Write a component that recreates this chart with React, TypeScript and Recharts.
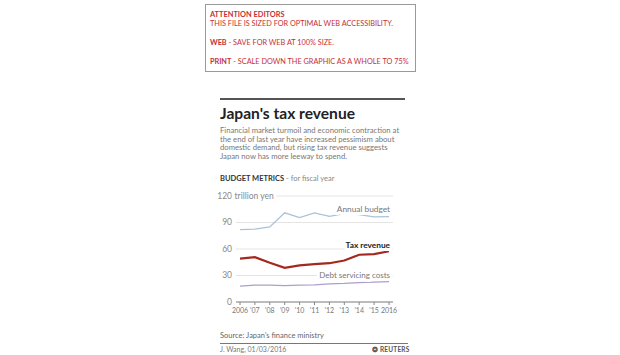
import React from 'react';
import { LineChart, Line, XAxis, YAxis, CartesianGrid, LabelList } from 'recharts';

const years = [2006, 2007, 2008, 2009, 2010, 2011, 2012, 2013, 2014, 2015, 2016];
const yearLabels = ['2006', "'07", "'08", "'09", "'10", "'11", "'12", "'13", "'14", "'15", '2016'];
const annualBudget = [82, 82.5, 85, 101, 95.5, 100.8, 97, 100, 99, 96.3, 96.6];
const taxRevenue = [49.1, 50.8, 44.5, 38.7, 41.4, 42.8, 43.9, 47, 53.5, 54.3, 57.5];
const debtServicing = [18, 19, 19, 18.5, 19, 19.5, 20.5, 21, 22, 22.5, 23];
const yTicks = [0, 30, 60, 90, 120];
const yUnit = 'trillion yen';
const seriesNames = { annualBudget: 'Annual budget', taxRevenue: 'Tax revenue', debtServicing: 'Debt servicing costs' };

const data = years.map((year, i) => ({
  year,
  annualBudget: annualBudget[i],
  taxRevenue: taxRevenue[i],
  debtServicing: debtServicing[i],
}));

const FONT = 'Lato, "Open Sans", sans-serif';
const RED = '#c62f36';

const YTick = (props: any) => {
  const { x, y, payload } = props;
  return (
    <g>
      <text x={x} y={y} dy="0.35em" textAnchor="end" fontSize={8.5} fill="#888" fontFamily={FONT}>
        {payload.value}
      </text>
      {payload.value === 120 && (
        <text x={x + 2.5} y={y} dy="0.35em" textAnchor="start" fontSize={8.5} fill="#888" fontFamily={FONT}
          stroke="#fff" strokeWidth={6} strokeLinejoin="round" paintOrder="stroke">
          {yUnit}
        </text>
      )}
    </g>
  );
};

const XTick = (props: any) => {
  const { x, y, payload } = props;
  const label = yearLabels[years.indexOf(payload.value)];
  return (
    <text x={x} y={y} dy="0.71em" textAnchor="middle" fontSize={7} fill="#777" fontFamily={FONT}>
      {label}
    </text>
  );
};

const makeEndLabel = (text: string, dy: number, color: string, bold: boolean, size: number) => (props: any) => {
  const { x, y, index } = props;
  if (index !== years.length - 1) return null;
  return (
    <text x={x + 1} y={y + dy} dy="0.35em" textAnchor="end" fontSize={size} fill={color}
      fontWeight={bold ? 700 : 400} fontFamily={FONT}
      stroke="#fff" strokeWidth={6} strokeLinejoin="round" paintOrder="stroke">
      {text}
    </text>
  );
};

const abs = (left: number, top: number, extra: React.CSSProperties = {}): React.CSSProperties => ({
  position: 'absolute', left, top, whiteSpace: 'nowrap', ...extra,
});

export default function App() {
  return (
    <div style={{ position: 'absolute', left: 0, top: 0, width: 620, height: 355, background: '#fff', fontFamily: FONT, overflow: 'hidden' }}>
      {/* attention box */}
      <div style={{ position: 'absolute', left: 205, top: 4, width: 209, height: 66, border: '1px solid #9a9a9a' }} />
      <div style={abs(210, 10, { fontSize: 7.4, lineHeight: '10px', color: RED, fontWeight: 700 })}>ATTENTION EDITORS</div>
      <div style={abs(210, 19, { fontSize: 7.3, lineHeight: '10px', color: RED })}>THIS FILE IS SIZED FOR OPTIMAL WEB ACCESSIBILITY.</div>
      <div style={abs(210, 38, { fontSize: 7.3, lineHeight: '10px', color: RED })}><b>WEB</b> - SAVE FOR WEB AT 100% SIZE.</div>
      <div style={abs(210, 57, { fontSize: 7.3, lineHeight: '10px', color: RED })}><b>PRINT</b> - SCALE DOWN THE GRAPHIC AS A WHOLE TO 75%</div>

      {/* top rule */}
      <div style={{ position: 'absolute', left: 220, top: 98, width: 185, height: 2, background: '#555' }} />

      <div style={abs(220, 104, { fontSize: 15.6, lineHeight: '18px', fontWeight: 700, color: '#222' })}>Japan's tax revenue</div>

      <div style={{ position: 'absolute', left: 220, top: 126, width: 190, fontSize: 7.7, lineHeight: '8.7px', color: '#777' }}>
        <div>Financial market turmoil and economic contraction at</div>
        <div>the end of last year have increased pessimism about</div>
        <div>domestic demand, but rising tax revenue suggests</div>
        <div>Japan now has more leeway to spend.</div>
      </div>

      <div style={abs(220, 174, { fontSize: 7.5, lineHeight: '9px', color: '#888' })}>
        <span style={{ fontWeight: 700, color: '#333' }}>BUDGET METRICS</span> - for fiscal year
      </div>

      <div style={{ position: 'absolute', left: 200, top: 185 }}>
        <LineChart width={210} height={134} data={data} margin={{ top: 11, right: 17, bottom: 1, left: 0 }}>
          <CartesianGrid vertical={false} stroke="#e4e4e4" strokeWidth={1} />
          <XAxis dataKey="year" type="number" domain={[2006, 2016]} ticks={years} interval={0}
            padding={{ left: 4, right: 4 }} height={16} tickSize={3} tickMargin={3}
            axisLine={{ stroke: '#888' }} tickLine={{ stroke: '#888' }}
            tick={<XTick />} />
          <YAxis domain={[0, 120]} ticks={yTicks} width={36} axisLine={false} tickLine={false}
            tickSize={2} tickMargin={2} tick={<YTick />} interval={0} />
          <Line dataKey="annualBudget" stroke="#a9c3da" strokeWidth={1.3} dot={false} isAnimationActive={false}>
            <LabelList dataKey="annualBudget" content={makeEndLabel(seriesNames.annualBudget, -8, '#777', false, 8.3)} />
          </Line>
          <Line dataKey="debtServicing" stroke="#ad9fcd" strokeWidth={1.3} dot={false} isAnimationActive={false}>
            <LabelList dataKey="debtServicing" content={makeEndLabel(seriesNames.debtServicing, -6, '#777', false, 8)} />
          </Line>
          <Line dataKey="taxRevenue" stroke="#a3291f" strokeWidth={2.2} dot={false} isAnimationActive={false}>
            <LabelList dataKey="taxRevenue" content={makeEndLabel(seriesNames.taxRevenue, -6, '#222', true, 8.3)} />
          </Line>
        </LineChart>
      </div>

      <div style={abs(220, 331, { fontSize: 7.5, lineHeight: '9px', color: '#666' })}>Source: Japan's finance ministry</div>
      <div style={{ position: 'absolute', left: 220, top: 343, width: 188, height: 1, background: '#777' }} />
      <div style={abs(220, 345, { fontSize: 7, lineHeight: '8px', color: '#777' })}>J. Wang,  01/03/2016</div>
      <div style={abs(372, 345, { fontSize: 6.5, lineHeight: '8px', color: '#555', fontWeight: 700, letterSpacing: 0.2 })}>
        <span style={{ fontSize: 7 }}>❂</span> REUTERS
      </div>
    </div>
  );
}
